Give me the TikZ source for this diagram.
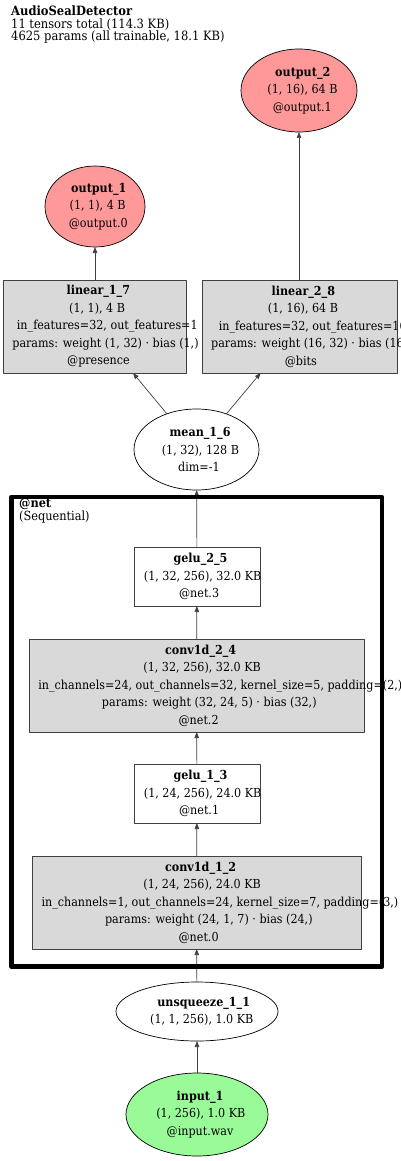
\documentclass[tikz,border=0pt]{standalone}
\usepackage{fontspec}
\setmainfont{DejaVu Serif Condensed}
\newfontfamily\estfont{Liberation Serif}
\usetikzlibrary{shapes.geometric,arrows.meta}
\definecolor{outpink}{HTML}{FF9999}
\definecolor{inpgreen}{HTML}{98FB98}
\definecolor{layergray}{HTML}{D9D9D9}
\definecolor{edgegray}{HTML}{404040}
\newcommand\nodefont{\fontsize{12.4}{17.5}\selectfont}
% each line is centred at the width a narrower face would give it, and runs on to the right
\newsavebox\estbox
\newcommand\shifted[1]{\sbox\estbox{\estfont #1}\makebox[\wd\estbox][l]{#1}}

\begin{document}
\begin{tikzpicture}[x=1pt, y=-1pt, line join=round,
    tensor/.style={ellipse, draw=black, line width=0.7pt, inner sep=0pt, outer sep=0pt, align=center, font=\nodefont},
    layer/.style={rectangle, draw=black!75, line width=0.7pt, fill=layergray, inner sep=0pt, outer sep=0pt, align=center, font=\nodefont},
    func/.style={layer, fill=white},
    flow/.style={draw=edgegray, line width=0.7pt, -{Triangle[length=6pt,width=4.5pt]}}]
  % Page frame, in pixels of the reference
  \useasboundingbox (0,0) rectangle (400,1161);

  % Header
  \node[anchor=north west, align=left, inner sep=0pt, font=\fontsize{12.8}{12.5}\selectfont] (title) at (11,6)
    {\textbf{AudioSealDetector}\\11 tensors total (114.3 KB)\\4625 params (all trainable, 18.1 KB)};

  % Outputs
  \node[tensor, fill=outpink, minimum width=116, minimum height=83] (output2) at (299,90.5)
    {\shifted{\textbf{output\_2}}\\\shifted{(1, 16), 64 B}\\\shifted{@output.1}};
  \node[tensor, fill=outpink, minimum width=100, minimum height=81] (output1) at (95,206.5)
    {\shifted{\textbf{output\_1}}\\\shifted{(1, 1), 4 B}\\\shifted{@output.0}};

  % Heads (the right one is drawn last, so it covers the overflow of the left one)
  \node[layer, minimum width=183, minimum height=93] (linear17) at (94.5,326.5)
    {\shifted{\textbf{linear\_1\_7}}\\\shifted{(1, 1), 4 B}\\\shifted{in\_features=32, out\_features=1}\\
     \shifted{params: weight (1, 32) · bias (1,)}\\\shifted{@presence}};
  \node[layer, minimum width=195, minimum height=93] (linear28) at (299.5,326.5)
    {\shifted{\textbf{linear\_2\_8}}\\\shifted{(1, 16), 64 B}\\\shifted{in\_features=32, out\_features=16}\\
     \shifted{params: weight (16, 32) · bias (16,)}\\\shifted{@bits}};

  \node[tensor, fill=white, minimum width=125, minimum height=81] (mean16) at (196.5,449.5)
    {\shifted{\textbf{mean\_1\_6}}\\\shifted{(1, 32), 128 B}\\\shifted{dim=-1}};

  % @net block
  \node[func, minimum width=126, minimum height=59] (gelu25) at (197,576.5)
    {\shifted{\textbf{gelu\_2\_5}}\\\shifted{(1, 32, 256), 32.0 KB}\\\shifted{@net.3}};
  \node[layer, minimum width=335, minimum height=93] (conv24) at (196.5,685.5)
    {\shifted{\textbf{conv1d\_2\_4}}\\\shifted{(1, 32, 256), 32.0 KB}\\
     \shifted{in\_channels=24, out\_channels=32, kernel\_size=5, padding=(2,)}\\
     \shifted{params: weight (32, 24, 5) · bias (32,)}\\\shifted{@net.2}};
  \node[func, minimum width=126, minimum height=59] (gelu13) at (197,793.5)
    {\shifted{\textbf{gelu\_1\_3}}\\\shifted{(1, 24, 256), 24.0 KB}\\\shifted{@net.1}};
  \node[layer, minimum width=329, minimum height=93] (conv12) at (196.5,902.5)
    {\shifted{\textbf{conv1d\_1\_2}}\\\shifted{(1, 24, 256), 24.0 KB}\\
     \shifted{in\_channels=1, out\_channels=24, kernel\_size=7, padding=(3,)}\\
     \shifted{params: weight (24, 1, 7) · bias (24,)}\\\shifted{@net.0}};

  % Input side
  \node[tensor, fill=white, minimum width=162, minimum height=59] (unsq11) at (197,1011.5)
    {\shifted{\textbf{unsqueeze\_1\_1}}\\\shifted{(1, 1, 256), 1.0 KB}};
  \node[tensor, fill=inpgreen, minimum width=142, minimum height=83] (input1) at (197,1114.5)
    {\shifted{\textbf{input\_1}}\\\shifted{(1, 256), 1.0 KB}\\\shifted{@input.wav}};

  % Data flow, bottom to top
  \draw[flow] (input1) -- (unsq11);
  \draw[flow] (unsq11) -- (conv12);
  \draw[flow] (conv12) -- (gelu13);
  \draw[flow] (gelu13) -- (conv24);
  \draw[flow] (conv24) -- (gelu25);
  \draw[flow] (gelu25) -- (mean16);
  \draw[flow] (mean16) -- (linear17);
  \draw[flow] (mean16) -- (linear28);
  \draw[flow] (linear17.north -| output1) -- (output1);
  \draw[flow] (linear28.north -| output2) -- (output2);

  % Cluster frame and its label
  \draw[line width=4.5pt] (11.5,497) rectangle (382,966.5);
  \node[anchor=north west, align=left, inner sep=0pt, font=\fontsize{12.6}{12.5}\selectfont] (netlabel) at (19,498.5)
    {\textbf{@net}\\(Sequential)};
\end{tikzpicture}
\end{document}
